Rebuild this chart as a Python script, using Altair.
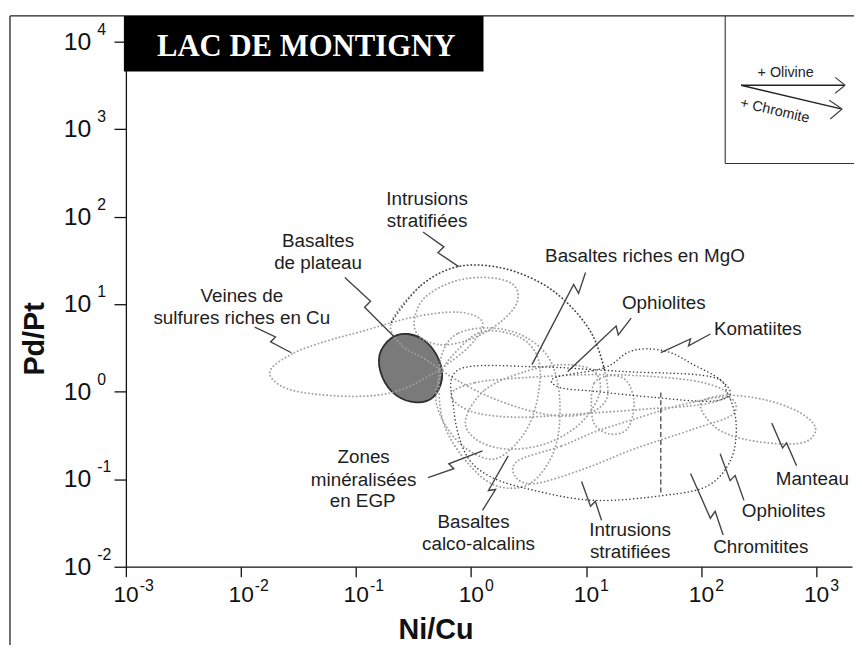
import altair as alt
import pandas as pd

# ---------------- axis ticks ----------------
x_ticks = [0.001, 0.01, 0.1, 1, 10, 100, 1000]
x_exponents = ["-3", "-2", "-1", "0", "1", "2", "3"]
y_ticks = [0.01, 0.1, 1, 10, 100, 1000, 10000]
y_exponents = ["-2", "-1", "0", "1", "2", "3", "4"]

# ---------------- fields (Ni/Cu, Pd/Pt) ----------------
veines_ni_cu = [0.0181, 0.0291, 0.0559, 0.1075, 0.3135, 0.780, 1.256, 0.99, 0.495, 0.224, 0.0955, 0.0341, 0.0207]
veines_pd_pt = [1.79, 2.79, 3.81, 4.82, 7.12, 8.11, 6.25, 3.43, 1.70, 1.01, 0.885, 0.982, 1.24]

plateau_ni_cu = [0.160, 0.203, 0.284, 0.406, 0.525, 0.557, 0.466, 0.333, 0.224, 0.170]
plateau_pd_pt = [2.64, 4.12, 4.57, 3.71, 2.32, 1.38, 0.862, 0.757, 0.908, 1.45]

intr_up_ni_cu = [0.203, 0.367, 0.766, 1.795, 3.97, 7.19, 11.34, 14.4, 15.0, 9.68, 4.38, 1.63, 0.736, 0.406, 0.247]
intr_up_pd_pt = [6.25, 16.4, 26.9, 26.2, 17.7, 9.73, 4.45, 1.79, 0.818, 0.554, 0.554, 0.818, 1.38, 2.32, 3.43]

inner_top_ni_cu = [0.320, 0.390, 0.707, 1.387, 2.32, 2.51, 1.795, 1.05, 0.580, 0.367]
inner_top_pd_pt = [6.25, 11.7, 18.2, 20.2, 16.8, 10.5, 6.25, 4.12, 3.43, 4.12]

mgo_ni_cu = [0.494, 0.568, 0.766, 1.16, 1.905, 3.13, 3.97, 3.59, 2.67, 1.63, 0.97, 0.628]
mgo_pd_pt = [0.818, 1.79, 3.01, 4.69, 4.82, 3.61, 1.88, 0.631, 0.289, 0.171, 0.211, 0.374]

calco_ni_cu = [0.568, 0.780, 1.53, 2.95, 4.83, 5.89, 5.34, 3.25, 1.63, 0.897, 0.580, 0.525]
calco_pd_pt = [2.86, 4.69, 5.35, 4.23, 2.32, 0.818, 0.222, 0.0892, 0.0847, 0.163, 0.427, 1.21]

ophio_long_ni_cu = [0.667, 1.09, 2.95, 11.8, 38.7, 104, 171, 104, 31.8, 7.94, 2.42, 0.99]
ophio_long_pd_pt = [0.932, 1.27, 1.45, 1.57, 1.49, 1.27, 0.932, 0.718, 0.631, 0.554, 0.512, 0.598]

chrom_ni_cu = [2.56, 6.13, 11.8, 26.1, 70.2, 171, 189, 85.5, 26.1, 9.68, 3.59, 2.42]
chrom_pd_pt = [0.163, 0.240, 0.346, 0.486, 0.718, 0.862, 0.554, 0.374, 0.222, 0.132, 0.0892, 0.107]

ophio_small_ni_cu = [11.1, 11.8, 16.5, 22.7, 26.1, 22.7, 15.9, 11.8]
ophio_small_pd_pt = [0.718, 1.27, 1.53, 1.31, 0.718, 0.374, 0.329, 0.427]

manteau_ni_cu = [98.3, 155, 343, 686, 980, 836, 509, 231, 132]
manteau_pd_pt = [0.718, 0.908, 0.818, 0.598, 0.394, 0.274, 0.253, 0.289, 0.394]

zones_ni_cu = [0.897, 1.33, 2.95, 6.51, 11.8, 13.0, 8.76, 4.38, 1.98, 1.09]
zones_pd_pt = [0.486, 1.06, 1.70, 2.04, 1.70, 0.932, 0.427, 0.253, 0.222, 0.289]

komat_ni_cu = [5.34, 14.4, 22.7, 33.7, 54.3, 85.5, 146, 178, 115, 38.7, 11.8, 5.89]
komat_pd_pt = [1.45, 1.88, 2.79, 3.09, 2.79, 2.04, 1.38, 0.932, 0.777, 0.862, 1.01, 1.12]

intr_low_ni_cu = [0.780, 3.59, 21.4, 120, 171, 201, 182, 115, 47.2, 11.8, 3.59, 1.47, 0.897, 0.707]
intr_low_pd_pt = [1.79, 1.93, 1.70, 1.49, 0.932, 0.427, 0.171, 0.0847, 0.0653, 0.0573, 0.0743, 0.107, 0.195, 0.631]

divide_ni_cu = [44.5, 44.5]
divide_pd_pt = [0.982, 0.0653]

# ---------------- leader lines (start, zig, zag, end) ----------------
leaders = {
    "veines": ([0.01316, 0.01995, 0.0181, 0.0274], [5.49, 4.23, 3.71, 2.79]),
    "plateau": ([0.0799, 0.1337, 0.1187, 0.211], [20.2, 10.8, 9.24, 4.34]),
    "intr_up": ([0.382, 0.580, 0.515, 0.780], [67.0, 45.3, 38.8, 26.9]),
    "mgo": ([9.87, 8.59, 7.78, 3.38], [23.0, 13.3, 16.8, 2.04]),
    "ophio_up": ([24.6, 19.0, 18.2, 6.91], [6.94, 4.45, 5.63, 1.70]),
    "komat": ([120, 77.5, 80.7, 44.5], [4.57, 3.34, 4.01, 2.79]),
    "manteau": ([673, 551, 509, 410], [0.1427, 0.260, 0.228, 0.438]),
    "ophio_low": ([235, 197, 178, 146], [0.0573, 0.110, 0.0964, 0.195]),
    "chrom": ([155, 132, 120, 80.7], [0.0230, 0.0430, 0.0358, 0.116]),
    "intr_low": ([13.6, 12.0, 10.9, 9.12], [0.0340, 0.0558, 0.0490, 0.094]),
    "calco": ([1.256, 1.63, 1.415, 2.10], [0.0441, 0.0763, 0.0743, 0.185]),
    "zones": ([0.422, 0.707, 0.640, 1.256], [0.1044, 0.132, 0.150, 0.211]),
}

# ---------------- labels ----------------
label_text = ["Intrusions", "stratifiées", "Basaltes", "de plateau", "Veines de",
              "sulfures riches en Cu", "Basaltes riches en MgO", "Ophiolites", "Komatiites",
              "Manteau", "Ophiolites", "Chromitites", "Intrusions", "stratifiées",
              "Basaltes", "calco-alcalins", "Zones", "minéralisées", "en EGP"]
label_ni_cu = [0.414, 0.414, 0.0468, 0.0468, 0.01017, 0.01017, 32.4, 47.2, 310,
               923, 520, 329, 24.1, 24.1, 1.05, 1.16, 0.1164, 0.1164, 0.1141]
label_pd_pt = [158.4, 89.3, 53.0, 29.9, 12.3, 6.94, 35.8, 10.26, 5.21,
               0.1016, 0.0430, 0.01683, 0.0262, 0.01477, 0.0323, 0.0182, 0.1804, 0.0990, 0.0558]


def table(fields):
    rows = []
    for name, (xs, ys) in fields.items():
        for i, (a, b) in enumerate(zip(xs, ys)):
            rows.append({"field": name, "order": i, "ni_cu": a, "pd_pt": b})
    return pd.DataFrame(rows)


gray_fields = {
    "veines": (veines_ni_cu, veines_pd_pt),
    "intr_up": (intr_up_ni_cu, intr_up_pd_pt),
    "inner_top": (inner_top_ni_cu, inner_top_pd_pt),
    "mgo": (mgo_ni_cu, mgo_pd_pt),
    "calco": (calco_ni_cu, calco_pd_pt),
    "ophio_long": (ophio_long_ni_cu, ophio_long_pd_pt),
    "chrom": (chrom_ni_cu, chrom_pd_pt),
    "ophio_small": (ophio_small_ni_cu, ophio_small_pd_pt),
    "manteau": (manteau_ni_cu, manteau_pd_pt),
    "zones": (zones_ni_cu, zones_pd_pt),
}
dark_fields = {
    "komat": (komat_ni_cu, komat_pd_pt),
    "intr_low": (intr_low_ni_cu, intr_low_pd_pt),
}
dark_open = {"intr_up_top": (intr_up_ni_cu[:8], intr_up_pd_pt[:8])}

FONT = "Liberation Sans"
xs = alt.Scale(type="log", domain=[0.001, 2042], nice=False)
ys = alt.Scale(type="log", domain=[0.01, 19720], nice=False)
xaxis = alt.Axis(values=x_ticks, labels=False, title=None, grid=False, tickSize=10,
                 tickColor="#111", domainColor="#111", domainWidth=1.3, tickWidth=1.3)
yaxis = alt.Axis(values=y_ticks, labels=False, title=None, grid=False, tickSize=12,
                 tickColor="#111", domainColor="#111", domainWidth=1.3, tickWidth=1.3)
X = alt.X("ni_cu:Q", scale=xs, axis=xaxis)
Y = alt.Y("pd_pt:Q", scale=ys, axis=yaxis)

one = pd.DataFrame({"k": [0]})

plateau = alt.Chart(table({"plateau": (plateau_ni_cu, plateau_pd_pt)})).mark_line(
    interpolate="cardinal-closed", fill="#7a7a7a", stroke="#2e2e2e", strokeWidth=1.8
).encode(X, Y, order="order:Q")

gray = alt.Chart(table(gray_fields)).mark_line(
    interpolate="cardinal-closed", color="#a0a0a0", strokeWidth=1.9,
    strokeDash=[0.1, 3.6], strokeCap="round"
).encode(X, Y, detail="field:N", order="order:Q")

dark = alt.Chart(table(dark_fields)).mark_line(
    interpolate="cardinal-closed", color="#3a3a3a", strokeWidth=1.5,
    strokeDash=[0.1, 3.6], strokeCap="round"
).encode(X, Y, detail="field:N", order="order:Q")

dark_top = alt.Chart(table(dark_open)).mark_line(
    interpolate="cardinal", color="#3a3a3a", strokeWidth=1.5,
    strokeDash=[0.1, 3.6], strokeCap="round"
).encode(X, Y, detail="field:N", order="order:Q")

divide = alt.Chart(table({"divide": (divide_ni_cu, divide_pd_pt)})).mark_line(
    color="#555", strokeWidth=1.4, strokeDash=[5, 3]
).encode(X, Y, order="order:Q")

leader_layer = alt.Chart(table(leaders)).mark_line(
    color="#444", strokeWidth=1.4
).encode(X, Y, detail="field:N", order="order:Q")

labels = alt.Chart(pd.DataFrame({"label": label_text, "ni_cu": label_ni_cu, "pd_pt": label_pd_pt})).mark_text(
    font=FONT, fontSize=19, color="#1e1e1e", align="center", baseline="middle"
).encode(X, Y, text="label:N")

# tick labels 10^n
xt = pd.DataFrame({"ni_cu": x_ticks, "e": x_exponents})
yt = pd.DataFrame({"pd_pt": y_ticks, "e": y_exponents})
x10 = alt.Chart(xt).mark_text(text="10", font=FONT, fontSize=23, color="#111", align="right",
                              baseline="middle", dx=13).encode(X, y=alt.value(585))
xexp = alt.Chart(xt).mark_text(font=FONT, fontSize=16, color="#111", align="left",
                               baseline="middle", dx=14).encode(X, y=alt.value(576), text="e:N")
y10 = alt.Chart(yt).mark_text(text="10", font=FONT, fontSize=25, color="#111", align="right",
                              baseline="middle").encode(Y, x=alt.value(-35))
yexp = alt.Chart(yt).mark_text(font=FONT, fontSize=16, color="#111", align="left",
                               baseline="middle", dy=-12).encode(Y, x=alt.value(-29), text="e:N")

x_title = alt.Chart(one).mark_text(text="Ni/Cu", font=FONT, fontSize=29, fontWeight="bold",
                                   color="#111", align="center", baseline="middle").encode(
    x=alt.value(313), y=alt.value(620))
y_title = alt.Chart(one).mark_text(text="Pd/Pt", font=FONT, fontSize=29, fontWeight="bold",
                                   color="#111", align="center", baseline="middle", angle=270).encode(
    x=alt.value(-92), y=alt.value(326))


def px_rule(x, y, x2, y2, color="#111", w=1.2):
    return alt.Chart(one).mark_rule(color=color, strokeWidth=w).encode(
        x=alt.value(x), y=alt.value(y), x2=alt.value(x2), y2=alt.value(y2))


frame = [px_rule(-117, 0, -117, 660, "#222", 1.3), px_rule(-117, 0, 740, 0, "#222", 1.3)]

title_box = alt.Chart(one).mark_rect(color="black").encode(
    x=alt.value(-2), x2=alt.value(361), y=alt.value(0), y2=alt.value(56))
title_text = alt.Chart(one).mark_text(text="LAC DE MONTIGNY", font="Liberation Serif", fontSize=31,
                                      fontWeight="bold", color="white", align="center",
                                      baseline="alphabetic").encode(x=alt.value(182), y=alt.value(40))

inset = [
    px_rule(605, 0, 605, 149, "#333", 1.1),
    px_rule(605, 149, 740, 149, "#333", 1.1),
    px_rule(621, 70, 726, 70, "#222", 1.4),
    px_rule(716, 62, 726, 70, "#444", 1.2),
    px_rule(716, 78, 726, 70, "#444", 1.2),
    px_rule(621, 70, 723, 94, "#222", 1.4),
    px_rule(710, 85, 723, 94, "#444", 1.2),
    px_rule(711, 104, 723, 94, "#444", 1.2),
]
olivine = alt.Chart(one).mark_text(text="+ Olivine", font=FONT, fontSize=14.5, color="#222",
                                   align="center", baseline="middle").encode(x=alt.value(666), y=alt.value(58))
chromite = alt.Chart(one).mark_text(text="+ Chromite", font=FONT, fontSize=14.5, color="#222",
                                    align="center", baseline="middle", angle=13).encode(
    x=alt.value(655), y=alt.value(96))

chart = alt.layer(
    plateau, gray, dark, dark_top, divide, leader_layer, labels,
    x10, xexp, y10, yexp, x_title, y_title,
    *frame, title_box, title_text, *inset, olivine, chromite
).properties(
    width=733, height=556,
    autosize=alt.AutoSizeParams(type="none"),
    padding={"left": 119, "top": 5, "right": 2, "bottom": 76},
    background="white",
).configure_view(stroke=None)

chart.save("out.html", embed_options={"renderer": "svg", "actions": False})
